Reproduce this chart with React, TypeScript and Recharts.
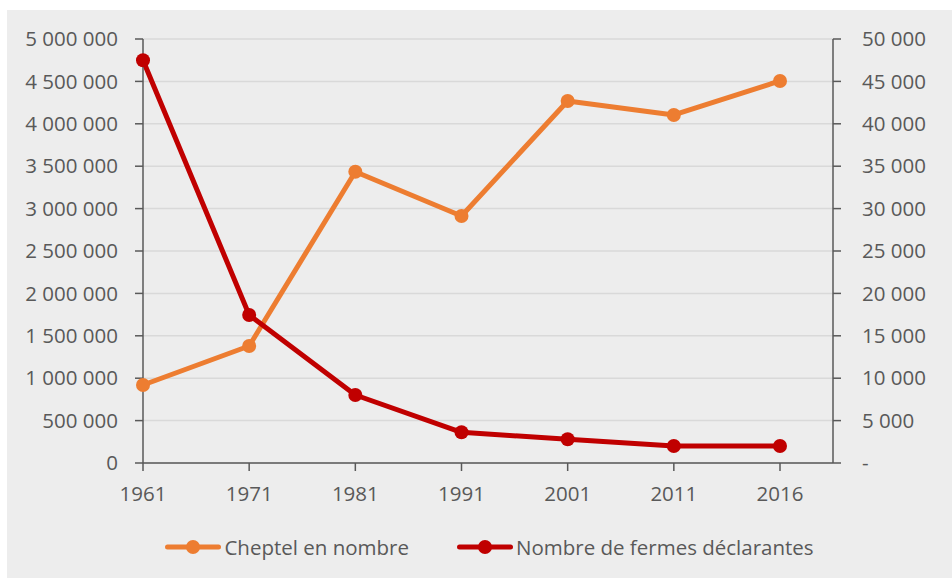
import React from 'react';
import { LineChart, Line, XAxis, YAxis, CartesianGrid, Legend } from 'recharts';

const years = ['1961', '1971', '1981', '1991', '2001', '2011', '2016'];
const cheptel = [920000, 1380000, 3435000, 2913000, 4269000, 4104000, 4505000];
const fermes = [47500, 17450, 8020, 3620, 2800, 2000, 2000];
const leftTicks = [0, 500000, 1000000, 1500000, 2000000, 2500000, 3000000, 3500000, 4000000, 4500000, 5000000];
const rightTicks = [0, 5000, 10000, 15000, 20000, 25000, 30000, 35000, 40000, 45000, 50000];

const data = years.map((year, i) => ({ year, cheptel: cheptel[i], fermes: fermes[i] }));

const FONT = '"Open Sans", sans-serif';
const TEXT = '#595959';
const AXIS = '#595959';
const ORANGE = '#ED7D31';
const RED = '#C00000';

const fmt = (n: number) => String(n).replace(/\B(?=(\d{3})+(?!\d))/g, ' ');

const legendItems = [
  { name: 'Cheptel en nombre', color: ORANGE },
  { name: 'Nombre de fermes déclarantes', color: RED },
];

const ChartLegend = () => (
  <div
    style={{
      display: 'flex',
      justifyContent: 'center',
      alignItems: 'center',
      height: 30,
      paddingLeft: 20,
      fontFamily: FONT,
      fontSize: 20.5,
      color: TEXT,
    }}
  >
    {legendItems.map((item, i) => (
      <div key={item.name} style={{ display: 'flex', alignItems: 'center', marginLeft: i === 0 ? 0 : 48 }}>
        <svg width={56} height={16} style={{ marginRight: 3 }}>
          <line x1={2.5} y1={8} x2={53.5} y2={8} stroke={item.color} strokeWidth={5} strokeLinecap="round" />
          <circle cx={28} cy={8} r={7} fill={item.color} />
        </svg>
        <span>{item.name}</span>
      </div>
    ))}
  </div>
);

export default function App() {
  const tickStyle = { fill: TEXT, fontFamily: FONT, fontSize: 20.5 };
  return (
    <div style={{ position: 'fixed', left: 7, top: 10, width: 945, height: 568, background: '#EDEDED' }}>
      <LineChart width={945} height={568} data={data} margin={{ top: 29, right: 0, bottom: 16, left: 0 }}>
        <CartesianGrid yAxisId="left" vertical={false} stroke="#D9D9D9" strokeWidth={1.5} />
        <XAxis
          dataKey="year"
          padding={{ left: 0, right: 53 }}
          height={69}
          tick={tickStyle}
          tickSize={8}
          tickMargin={15}
          axisLine={{ stroke: AXIS, strokeWidth: 1.5 }}
          tickLine={{ stroke: AXIS, strokeWidth: 1.5 }}
          interval={0}
        />
        <YAxis
          yAxisId="left"
          width={136}
          domain={[0, 5000000]}
          ticks={leftTicks}
          tickFormatter={fmt}
          tick={tickStyle}
          tickSize={8}
          tickMargin={17}
          axisLine={{ stroke: AXIS, strokeWidth: 1.5 }}
          tickLine={{ stroke: AXIS, strokeWidth: 1.5 }}
          interval={0}
        />
        <YAxis
          yAxisId="right"
          orientation="right"
          width={119}
          domain={[0, 50000]}
          ticks={rightTicks}
          tickFormatter={(n: number) => (n === 0 ? '-' : fmt(n))}
          tick={{ ...tickStyle, textAnchor: 'start' }}
          tickSize={8}
          tickMargin={21}
          axisLine={{ stroke: AXIS, strokeWidth: 1.5 }}
          tickLine={{ stroke: AXIS, strokeWidth: 1.5 }}
          interval={0}
        />
        <Legend verticalAlign="bottom" content={() => <ChartLegend />} />
        <Line
          yAxisId="left"
          type="linear"
          dataKey="cheptel"
          name="Cheptel en nombre"
          stroke={ORANGE}
          strokeWidth={5}
          strokeLinejoin="round"
          dot={{ r: 7, fill: ORANGE, stroke: 'none' }}
          activeDot={false}
          isAnimationActive={false}
        />
        <Line
          yAxisId="right"
          type="linear"
          dataKey="fermes"
          name="Nombre de fermes déclarantes"
          stroke={RED}
          strokeWidth={5}
          strokeLinejoin="round"
          dot={{ r: 7, fill: RED, stroke: 'none' }}
          activeDot={false}
          isAnimationActive={false}
        />
      </LineChart>
    </div>
  );
}
